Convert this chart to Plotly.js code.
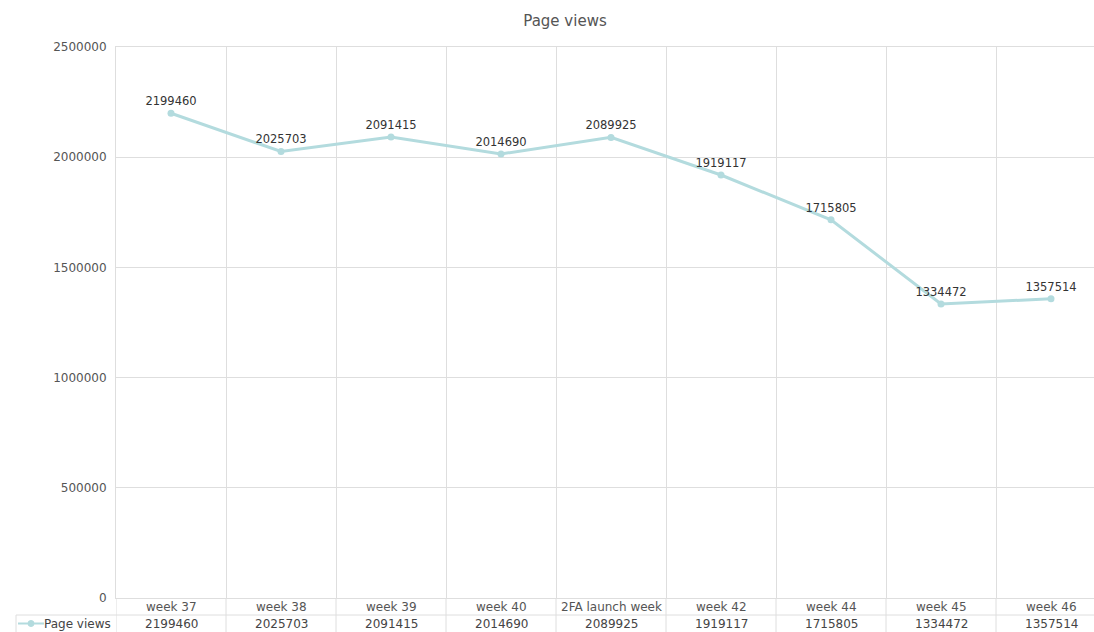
<!DOCTYPE html>
<html>
<head>
<meta charset="utf-8">
<script src="https://cdn.plot.ly/plotly-3.0.1.min.js"></script>
<style>html,body{margin:0;padding:0;background:#fff;}#chart{width:1094px;height:632px;}</style>
</head>
<body>
<div id="chart"></div>
<script>
const seriesName = "Page views";
const categories = ["week 37", "week 38", "week 39", "week 40", "2FA launch week", "week 42", "week 44", "week 45", "week 46"];
const pageViews = [2199460, 2025703, 2091415, 2014690, 2089925, 1919117, 1715805, 1334472, 1357514];
const yTicks = [0, 500000, 1000000, 1500000, 2000000, 2500000];

const W = 1094, H = 632;
const mL = 116, mR = 0, mT = 47, mB = 34;
const plotW = W - mL - mR, plotH = H - mT - mB;
const catW = 110;
const xMax = -0.5 + plotW / catW;

const lineColor = "#b3dbde";
const gridColor = "#dedede";
const font = "DejaVu Sans, Verdana, sans-serif";

const px2py = p => (H - mB - p) / plotH;     // pixel y -> paper y
const px2px = p => (p - mL) / plotW;         // pixel x -> paper x

const trace = {
  x: categories,
  y: pageViews,
  type: "scatter",
  mode: "lines+markers+text",
  name: seriesName,
  text: pageViews.map(String),
  textposition: "top center",
  textfont: {family: font, size: 11.5, color: "#333"},
  line: {color: lineColor, width: 3},
  marker: {color: lineColor, size: 7},
  cliponaxis: false,
  hoverinfo: "x+y"
};

const shapes = [];
const annotations = [];
// table vertical lines (extension of category boundaries)
for (let i = 0; i <= categories.length; i++) {
  shapes.push({type: "line", xref: "x", yref: "paper", x0: i - 0.5, x1: i - 0.5,
    y0: px2py(632), y1: 0, line: {color: gridColor, width: 1}});
}
// table horizontal lines
shapes.push({type: "line", xref: "paper", yref: "paper", x0: px2px(16), x1: 1,
  y0: px2py(615), y1: px2py(615), line: {color: gridColor, width: 1}});
shapes.push({type: "line", xref: "paper", yref: "paper", x0: px2px(16), x1: px2px(16),
  y0: px2py(615), y1: px2py(632), line: {color: gridColor, width: 1}});
// legend icon in the table
shapes.push({type: "line", xref: "paper", yref: "paper", x0: px2px(18), x1: px2px(44),
  y0: px2py(623.5), y1: px2py(623.5), line: {color: lineColor, width: 2}});
shapes.push({type: "circle", xref: "paper", yref: "paper", x0: px2px(28), x1: px2px(34),
  y0: px2py(626.5), y1: px2py(620.5), fillcolor: lineColor, line: {color: lineColor, width: 1}});
annotations.push({xref: "paper", yref: "paper", x: px2px(113), y: px2py(624),
  xanchor: "right", yanchor: "middle", showarrow: false, text: seriesName,
  font: {family: font, size: 12, color: "#444"}});

categories.forEach((c, i) => {
  annotations.push({xref: "x", yref: "paper", x: i, y: px2py(607), xanchor: "center", yanchor: "middle",
    showarrow: false, text: c, font: {family: font, size: 12, color: "#555"}});
  annotations.push({xref: "x", yref: "paper", x: i, y: px2py(624), xanchor: "center", yanchor: "middle",
    showarrow: false, text: String(pageViews[i]), font: {family: font, size: 12, color: "#444"}});
});

const layout = {
  width: W, height: H,
  margin: {l: mL, r: mR, t: mT, b: mB, pad: 0},
  paper_bgcolor: "#ffffff",
  plot_bgcolor: "#ffffff",
  showlegend: false,
  title: {text: "Page views", x: 565 / W, xref: "container", xanchor: "center",
    y: 1 - 21 / H, yref: "container", yanchor: "middle",
    font: {family: font, size: 15, color: "#555"}},
  xaxis: {
    type: "category",
    range: [-0.5, xMax],
    tickson: "boundaries",
    showgrid: true, gridcolor: gridColor, gridwidth: 1,
    showticklabels: false, ticks: "",
    showline: true, mirror: true, linecolor: gridColor, linewidth: 1,
    zeroline: false, fixedrange: true
  },
  yaxis: {
    range: [0, 2500000],
    tickvals: yTicks,
    ticktext: yTicks.map(String),
    showgrid: true, gridcolor: gridColor, gridwidth: 1,
    showline: true, linecolor: gridColor,
    zeroline: false,
    ticks: "outside", ticklen: 6, tickcolor: "rgba(0,0,0,0)",
    tickfont: {family: font, size: 12, color: "#555"},
    fixedrange: true
  },
  shapes: shapes,
  annotations: annotations,
  font: {family: font}
};

Plotly.newPlot("chart", [trace], layout, {displayModeBar: false, staticPlot: true});
</script>
</body>
</html>
